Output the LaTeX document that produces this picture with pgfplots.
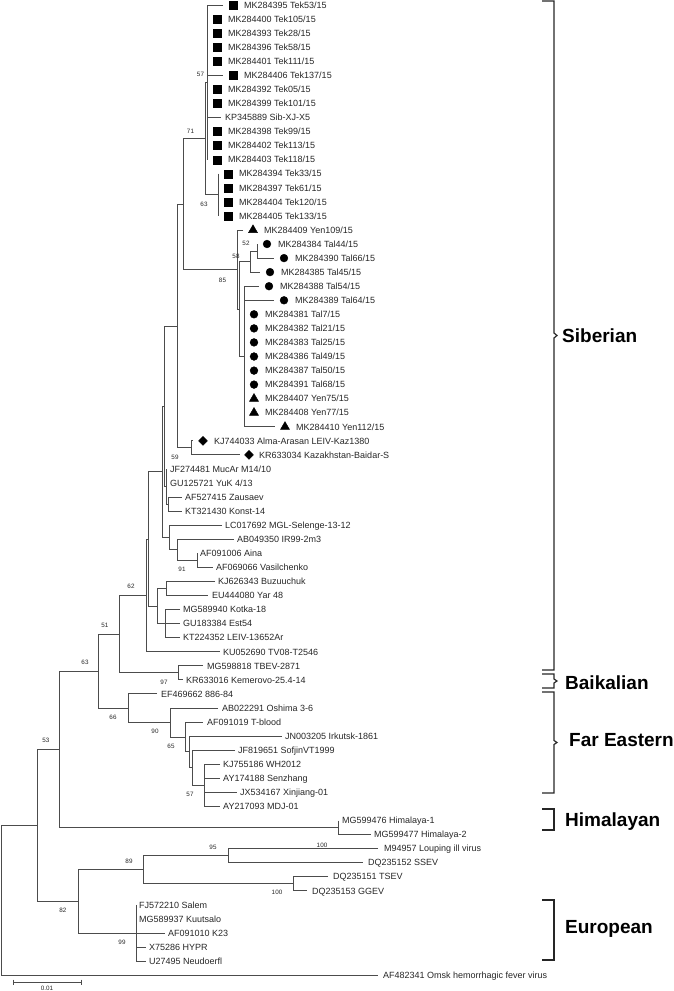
\documentclass[border=0pt]{standalone}
\usepackage{fontspec}
\setmainfont{Liberation Sans}
\usepackage{pgfplots}
\pgfplotsset{compat=1.18}
\definecolor{treecol}{gray}{0.3}
\definecolor{txtcol}{gray}{0.15}
\newcommand{\leaffont}{\fontsize{9}{10}\selectfont}
\newcommand{\bsfont}{\fontsize{6.3}{7}\selectfont}
\newcommand{\lf}[3]{\node[anchor=base west,inner sep=0pt,yshift=-3.2pt,font=\leaffont,text=txtcol] at (axis cs:#1,#2) {#3};}
\newcommand{\bs}[3]{\node[inner sep=0pt,font=\bsfont,text=txtcol] at (axis cs:#1,#2) {#3};}
\newcommand{\grp}[3]{\node[anchor=base west,inner sep=0pt,yshift=-6.8pt,font=\bfseries\fontsize{19}{20}\selectfont] at (axis cs:#1,#2) {#3};}
\begin{document}
\begin{tikzpicture}
\begin{axis}[scale only axis, width=673pt, height=991pt, xmin=0, xmax=673, ymin=0, ymax=991,
  y dir=reverse, hide axis, clip=false, unbounded coords=jump]
% tree branches
\addplot[treecol, line width=0.9pt, mark=none] table[row sep=\\] {
x y\\
37 825.3\\ 1 825.3\\ 1 975.1\\ 378 975.1\\ nan nan\\
59 749.3\\ 37 749.3\\ 37 901.3\\ 78 901.3\\ nan nan\\
98 671.2\\ 59 671.2\\ 59 827.5\\ 338 827.5\\ nan nan\\
119 634.1\\ 98 634.1\\ 98 708.2\\ 128 708.2\\ nan nan\\
146 595.4\\ 119 595.4\\ 119 672.8\\ 178 672.8\\ nan nan\\
148 539.0\\ 146 539.0\\ 146 651.8\\ 220 651.8\\ nan nan\\
162 471.9\\ 148 471.9\\ 148 606.1\\ 157 606.1\\ nan nan\\
164 406.3\\ 162 406.3\\ 162 537.5\\ 169 537.5\\ nan nan\\
177 326.0\\ 164 326.0\\ 164 486.6\\ 166 486.6\\ nan nan\\
183 204.0\\ 177 204.0\\ 177 447.9\\ 191 447.9\\ nan nan\\
205 138.6\\ 183 138.6\\ 183 269.5\\ 237 269.5\\ nan nan\\
207 82.3\\ 205 82.3\\ 205 194.8\\ 218 194.8\\ nan nan\\
223 5.0\\ 207 5.0\\ 207 159.7\\ nan nan\\
207 75.3\\ 223 75.3\\ nan nan\\
207 117.5\\ 221 117.5\\ nan nan\\
218 173.7\\ 218 215.9\\ nan nan\\
243 230.0\\ 237 230.0\\ 237 309.0\\ 239 309.0\\ nan nan\\
250 261.6\\ 239 261.6\\ 239 356.5\\ 244 356.5\\ nan nan\\
257 251.1\\ 250 251.1\\ 250 272.1\\ 260 272.1\\ nan nan\\
257 244.0\\ 257 258.1\\ 274 258.1\\ nan nan\\
259 286.2\\ 244 286.2\\ 244 426.8\\ 275 426.8\\ nan nan\\
244 300.3\\ 274 300.3\\ nan nan\\
193 440.9\\ 191 440.9\\ 191 454.9\\ 240 454.9\\ nan nan\\
166 469.0\\ 166 504.1\\ 168 504.1\\ nan nan\\
182 497.1\\ 168 497.1\\ 168 511.2\\ 182 511.2\\ nan nan\\
222 525.2\\ 169 525.2\\ 169 549.8\\ 177 549.8\\ nan nan\\
234 539.3\\ 177 539.3\\ 177 560.4\\ 197 560.4\\ nan nan\\
197 553.3\\ 197 567.4\\ 213 567.4\\ nan nan\\
166 588.5\\ 157 588.5\\ 157 623.6\\ 165 623.6\\ nan nan\\
215 581.5\\ 166 581.5\\ 166 595.5\\ 208 595.5\\ nan nan\\
180 609.6\\ 165 609.6\\ 165 637.7\\ 180 637.7\\ nan nan\\
165 623.6\\ 180 623.6\\ nan nan\\
203 665.8\\ 178 665.8\\ 178 679.9\\ 183 679.9\\ nan nan\\
157 693.9\\ 128 693.9\\ 128 722.5\\ 170 722.5\\ nan nan\\
218 708.0\\ 170 708.0\\ 170 737.0\\ 185 737.0\\ nan nan\\
203 722.1\\ 185 722.1\\ 185 751.9\\ 189 751.9\\ nan nan\\
282 736.1\\ 189 736.1\\ 189 767.8\\ 192 767.8\\ nan nan\\
235 750.2\\ 192 750.2\\ 192 785.3\\ 204 785.3\\ nan nan\\
220 764.2\\ 204 764.2\\ 204 806.4\\ 220 806.4\\ nan nan\\
204 778.3\\ 220 778.3\\ nan nan\\
204 792.4\\ 237 792.4\\ nan nan\\
338 820.5\\ 338 834.5\\ 371 834.5\\ nan nan\\
143 869.7\\ 78 869.7\\ 78 933.0\\ 165 933.0\\ nan nan\\
228 855.6\\ 143 855.6\\ 143 883.7\\ 293 883.7\\ nan nan\\
378 848.6\\ 228 848.6\\ 228 862.7\\ 363 862.7\\ nan nan\\
328 876.7\\ 293 876.7\\ 293 890.8\\ 307 890.8\\ nan nan\\
136 904.8\\ 136 961.1\\ 146 961.1\\ nan nan\\
136 947.0\\ 146 947.0\\
};
% markers
\addplot[only marks, mark=square*, mark size=4pt, black] coordinates {
(233,5.0) (217,19.1) (217,33.1) (217,47.2) (217,61.2) (233,75.3) (217,89.4) (217,103.4)
(217,131.5) (217,145.6) (217,159.7) (228,173.7) (228,187.8) (228,201.8) (228,215.9)};
\addplot[only marks, mark=*, mark size=3.9pt, black] coordinates {
(267,244.0) (284,258.1) (270,272.1) (269,286.2) (284,300.3) (254,314.3) (254,328.4)
(254,342.4) (254,356.5) (254,370.6) (254,384.6)};
\addplot[only marks, mark=triangle*, mark size=5.2pt, black] coordinates {
(253,230.0) (254,398.7) (254,412.7) (285,426.8)};
\addplot[only marks, mark=diamond*, mark size=4.5pt, black, mark options={xscale=1.3}] coordinates {
(203,440.9) (249,454.9)};
% brackets
\addplot[black!85, line width=1.2pt, mark=none] coordinates {(542,1) (554,1) (554,333) (557,335.5) (554,338) (554,670) (542,670)};
\addplot[black!85, line width=1.2pt, mark=none] coordinates {(542,674) (554,674) (554,679) (557,681) (554,683) (554,688) (542,688)};
\addplot[black!85, line width=1.2pt, mark=none] coordinates {(542,692) (554,692) (554,740.5) (557,742.5) (554,744.5) (554,793) (542,793)};
\addplot[black!85, line width=1.2pt, mark=none] coordinates {(542,809) (554,809) (554,830) (542,830)};
\addplot[black!85, line width=1.2pt, mark=none] coordinates {(542,900) (554,900) (554,960) (542,960)};
% scale bar
\addplot[treecol, line width=0.9pt, mark=none] coordinates {(13,979.5) (13,984.5) (nan,nan) (13,982) (81,982) (nan,nan) (81,979.5) (81,984.5)};
\bs{47}{988.3}{0.01}
% leaf labels
\lf{244}{5.0}{MK284395 Tek53/15}
\lf{228}{19.1}{MK284400 Tek105/15}
\lf{228}{33.1}{MK284393 Tek28/15}
\lf{228}{47.2}{MK284396 Tek58/15}
\lf{228}{61.2}{MK284401 Tek111/15}
\lf{244}{75.3}{MK284406 Tek137/15}
\lf{228}{89.4}{MK284392 Tek05/15}
\lf{228}{103.4}{MK284399 Tek101/15}
\lf{225}{117.5}{KP345889 Sib-XJ-X5}
\lf{228}{131.5}{MK284398 Tek99/15}
\lf{228}{145.6}{MK284402 Tek113/15}
\lf{228}{159.7}{MK284403 Tek118/15}
\lf{239}{173.7}{MK284394 Tek33/15}
\lf{239}{187.8}{MK284397 Tek61/15}
\lf{239}{201.8}{MK284404 Tek120/15}
\lf{239}{215.9}{MK284405 Tek133/15}
\lf{264}{230.0}{MK284409 Yen109/15}
\lf{278}{244.0}{MK284384 Tal44/15}
\lf{295}{258.1}{MK284390 Tal66/15}
\lf{281}{272.1}{MK284385 Tal45/15}
\lf{280}{286.2}{MK284388 Tal54/15}
\lf{295}{300.3}{MK284389 Tal64/15}
\lf{265}{314.3}{MK284381 Tal7/15}
\lf{265}{328.4}{MK284382 Tal21/15}
\lf{265}{342.4}{MK284383 Tal25/15}
\lf{265}{356.5}{MK284386 Tal49/15}
\lf{265}{370.6}{MK284387 Tal50/15}
\lf{265}{384.6}{MK284391 Tal68/15}
\lf{265}{398.7}{MK284407 Yen75/15}
\lf{265}{412.7}{MK284408 Yen77/15}
\lf{296}{426.8}{MK284410 Yen112/15}
\lf{214}{440.9}{KJ744033 Alma-Arasan LEIV-Kaz1380}
\lf{259}{454.9}{KR633034 Kazakhstan-Baidar-S}
\lf{170}{469.0}{JF274481 MucAr M14/10}
\lf{170}{483.0}{GU125721 YuK 4/13}
\lf{185}{497.1}{AF527415 Zausaev}
\lf{185}{511.2}{KT321430 Konst-14}
\lf{225}{525.2}{LC017692 MGL-Selenge-13-12}
\lf{237}{539.3}{AB049350 IR99-2m3}
\lf{200}{553.3}{AF091006 Aina}
\lf{216}{567.4}{AF069066 Vasilchenko}
\lf{218}{581.5}{KJ626343 Buzuuchuk}
\lf{212}{595.5}{EU444080 Yar 48}
\lf{183}{609.6}{MG589940 Kotka-18}
\lf{183}{623.6}{GU183384 Est54}
\lf{183}{637.7}{KT224352 LEIV-13652Ar}
\lf{223}{651.8}{KU052690 TV08-T2546}
\lf{207}{665.8}{MG598818 TBEV-2871}
\lf{186}{679.9}{KR633016 Kemerovo-25.4-14}
\lf{161}{693.9}{EF469662 886-84}
\lf{222}{708.0}{AB022291 Oshima 3-6}
\lf{207}{722.1}{AF091019 T-blood}
\lf{285}{736.1}{JN003205 Irkutsk-1861}
\lf{238}{750.2}{JF819651 SofjinVT1999}
\lf{223}{764.2}{KJ755186 WH2012}
\lf{223}{778.3}{AY174188 Senzhang}
\lf{240}{792.4}{JX534167 Xinjiang-01}
\lf{223}{806.4}{AY217093 MDJ-01}
\lf{342}{820.5}{MG599476 Himalaya-1}
\lf{374}{834.5}{MG599477 Himalaya-2}
\lf{384}{848.6}{M94957 Louping ill virus}
\lf{368}{862.7}{DQ235152 SSEV}
\lf{333}{876.7}{DQ235151 TSEV}
\lf{312}{890.8}{DQ235153 GGEV}
\lf{139}{904.8}{FJ572210 Salem}
\lf{139}{918.9}{MG589937 Kuutsalo}
\lf{168}{933.0}{AF091010 K23}
\lf{149}{947.0}{X75286 HYPR}
\lf{149}{961.1}{U27495 Neudoerfl}
\lf{383}{975.1}{AF482341 Omsk hemorrhagic fever virus}
% bootstrap values
\bs{200.5}{74}{57}
\bs{190.5}{131}{71}
\bs{204}{204}{63}
\bs{246}{243}{52}
\bs{236}{256}{58}
\bs{222.5}{280}{85}
\bs{175}{457}{59}
\bs{182}{569}{91}
\bs{131}{586}{62}
\bs{105}{625}{51}
\bs{85}{662}{63}
\bs{164}{682}{97}
\bs{113}{717}{66}
\bs{155}{731}{90}
\bs{171}{746}{65}
\bs{190}{794}{57}
\bs{46}{740}{53}
\bs{322}{845}{100}
\bs{213}{847}{95}
\bs{129}{861}{89}
\bs{277}{892}{100}
\bs{63}{910}{82}
\bs{122}{942}{99}
% group labels
\grp{562}{335.5}{Siberian}
\grp{565}{683}{Baikalian}
\grp{569}{740}{Far Eastern}
\grp{565}{820}{Himalayan}
\grp{565}{927}{European}
\end{axis}
\pgfresetboundingbox
\useasboundingbox (current axis.south west) rectangle (current axis.north east);
\end{tikzpicture}
\end{document}
